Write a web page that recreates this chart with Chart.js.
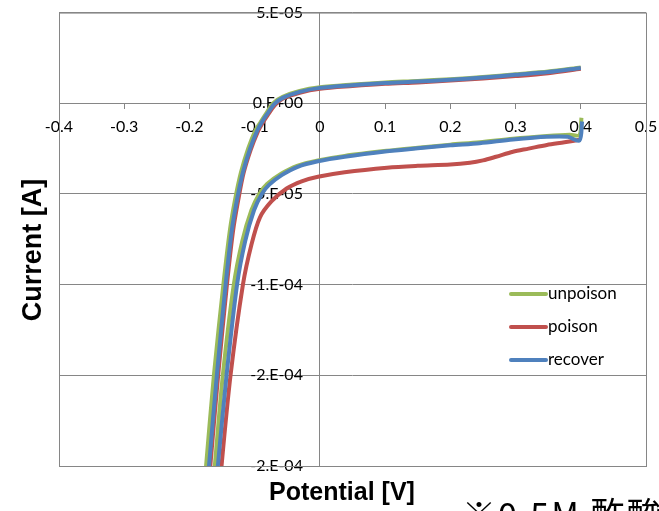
<!DOCTYPE html>
<html>
<head>
<meta charset="utf-8">
<script src="https://cdn.jsdelivr.net/npm/chart.js@4"></script>
<style>
  html, body { margin: 0; padding: 0; background: #fff; overflow: hidden; }
  #wrap { position: relative; width: 659px; height: 511px; overflow: hidden; }
  #note { position: absolute; left: 462px; top: 496px; font-family: "Noto Sans CJK JP"; font-size: 34px; line-height: 34px; letter-spacing: 2px; white-space: nowrap; color: #000; }
</style>
</head>
<body>
<div id="wrap">
  <canvas id="cvChart" width="659" height="511"></canvas>
  <div id="note">※0.5M 酢酸</div>
</div>
<script>
// tick labels (Excel style "0.E+00")
const xTickLabels = ["-0.4", "-0.3", "-0.2", "-0.1", "0", "0.1", "0.2", "0.3", "0.4", "0.5"];
const yTickLabels = ["-2.E-04", "-2.E-04", "-1.E-04", "-5.E-05", "0.E+00", "5.E-05"];

const seriesNames = ["unpoison", "poison", "recover"];
const seriesColors = ["#9BBB59", "#C0504D", "#4F81BD"];

// unpoison: sweep to negative potential, then back
const unpoisonX = [0.400, 0.350, 0.300, 0.250, 0.200, 0.150, 0.100, 0.050, 0.000, -0.031, -0.057, -0.072, -0.083, -0.092, -0.099, -0.110, -0.121, -0.130, -0.138, -0.148, -0.1625, -0.1745, -0.184,
  -0.171, -0.1611, -0.1488, -0.132, -0.119, -0.105, -0.093, -0.081, -0.060, -0.035, -0.003, 0.038, 0.103, 0.150, 0.200, 0.245, 0.296, 0.348, 0.383, 0.398, 0.401];
const unpoisonY = [1.98e-5, 1.75e-5, 1.60e-5, 1.45e-5, 1.33e-5, 1.23e-5, 1.15e-5, 1.03e-5, 0.88e-5, 0.68e-5, 0.36e-5, 0.0, -0.6e-5, -1.1e-5, -1.5e-5, -2.5e-5, -3.8e-5, -5.3e-5, -7.0e-5, -1.0e-4, -1.5e-4, -2.0e-4, -2.4e-4,
  -2.4e-4, -2.0e-4, -1.5e-4, -1.0e-4, -7.6e-5, -5.9e-5, -5.0e-5, -4.45e-5, -3.9e-5, -3.45e-5, -3.15e-5, -2.9e-5, -2.62e-5, -2.45e-5, -2.28e-5, -2.15e-5, -1.95e-5, -1.8e-5, -1.73e-5, -1.75e-5, -0.8e-5];

// poison
const poisonX = [0.400, 0.350, 0.300, 0.250, 0.200, 0.150, 0.100, 0.050, 0.000, -0.031, -0.057, -0.069, -0.080, -0.089, -0.095, -0.106, -0.117, -0.125, -0.133, -0.1425, -0.156, -0.168, -0.177,
  -0.160, -0.1508, -0.137, -0.118, -0.105, -0.092, -0.074, -0.051, -0.028, -0.003, 0.038, 0.103, 0.150, 0.200, 0.230, 0.250, 0.270, 0.296, 0.320, 0.348, 0.375, 0.400];
const poisonY = [1.90e-5, 1.66e-5, 1.50e-5, 1.37e-5, 1.25e-5, 1.15e-5, 1.07e-5, 0.95e-5, 0.80e-5, 0.58e-5, 0.25e-5, -0.1e-5, -0.65e-5, -1.15e-5, -1.55e-5, -2.55e-5, -3.85e-5, -5.3e-5, -7.0e-5, -1.0e-4, -1.5e-4, -2.0e-4, -2.4e-4,
  -2.4e-4, -2.0e-4, -1.5e-4, -1.0e-4, -7.8e-5, -6.3e-5, -5.4e-5, -4.7e-5, -4.3e-5, -4.05e-5, -3.8e-5, -3.55e-5, -3.45e-5, -3.38e-5, -3.28e-5, -3.15e-5, -2.95e-5, -2.67e-5, -2.5e-5, -2.3e-5, -2.15e-5, -2.0e-5];

// recover
const recoverX = [0.400, 0.350, 0.300, 0.250, 0.200, 0.150, 0.100, 0.050, 0.000, -0.031, -0.057, -0.070, -0.081, -0.090, -0.096, -0.107, -0.118, -0.127, -0.135, -0.1445, -0.158, -0.170, -0.179,
  -0.166, -0.1564, -0.1431, -0.127, -0.1145, -0.101, -0.089, -0.078, -0.058, -0.034, -0.003, 0.038, 0.103, 0.150, 0.200, 0.245, 0.296, 0.348, 0.380, 0.398, 0.402];
const recoverY = [1.95e-5, 1.72e-5, 1.57e-5, 1.42e-5, 1.30e-5, 1.20e-5, 1.12e-5, 1.00e-5, 0.85e-5, 0.63e-5, 0.30e-5, -0.05e-5, -0.6e-5, -1.1e-5, -1.5e-5, -2.5e-5, -3.8e-5, -5.3e-5, -7.0e-5, -1.0e-4, -1.5e-4, -2.0e-4, -2.4e-4,
  -2.4e-4, -2.0e-4, -1.5e-4, -1.0e-4, -7.6e-5, -5.9e-5, -5.0e-5, -4.5e-5, -3.95e-5, -3.5e-5, -3.2e-5, -2.95e-5, -2.65e-5, -2.48e-5, -2.32e-5, -2.2e-5, -2.0e-5, -1.85e-5, -1.85e-5, -2.05e-5, -1.0e-5];

const seriesX = [unpoisonX, poisonX, recoverX];
const seriesY = [unpoisonY, poisonY, recoverY];

function toPoints(xs, ys) {
    return xs.map((x, i) => ({ x: x, y: ys[i] }));
}

const gridColor = "#868686";

// box, axis titles and the legend inside the plot
const decorPlugin = {
    id: "decor",
    beforeDatasetsDraw(chart) {
        const { ctx, chartArea: a } = chart;
        ctx.save();
        ctx.strokeStyle = gridColor;
        ctx.lineWidth = 1;
        ctx.strokeRect(a.left + 0.5, a.top + 0.5, a.right - a.left, a.bottom - a.top);
        ctx.restore();
    },
    afterDraw(chart) {
        const { ctx } = chart;
        ctx.save();
        ctx.fillStyle = "#000";
        ctx.textAlign = "center";
        ctx.textBaseline = "middle";
        ctx.font = "bold 25px 'Liberation Sans', Arial";
        ctx.fillText("Potential [V]", 342, 493);
        ctx.font = "bold 27px 'Liberation Sans', Arial";
        ctx.translate(34, 250);
        ctx.rotate(-Math.PI / 2);
        ctx.fillText("Current [A]", 0, 0);
        ctx.restore();

        // legend
        ctx.save();
        ctx.font = "17px Lato";
        ctx.textBaseline = "middle";
        ctx.textAlign = "left";
        seriesNames.forEach((name, i) => {
            const y = 294 + i * 33;
            ctx.strokeStyle = seriesColors[i];
            ctx.lineWidth = 4;
            ctx.lineCap = "round";
            ctx.beginPath();
            ctx.moveTo(511, y);
            ctx.lineTo(546, y);
            ctx.stroke();
            ctx.fillStyle = "#000";
            ctx.fillText(name, 548, y);
        });
        ctx.restore();
    }
};

const ctx = document.getElementById("cvChart").getContext("2d");
const cvChart = new Chart(ctx, {
    type: "scatter",
    data: {
        datasets: seriesNames.map((name, i) => ({
            label: name,
            data: toPoints(seriesX[i], seriesY[i]),
            showLine: true,
            borderColor: seriesColors[i],
            backgroundColor: seriesColors[i],
            borderWidth: 4,
            pointRadius: 0,
            tension: 0.3,
            clip: 0,
            order: seriesNames.length - 1 - i,
        })),
    },
    options: {
        responsive: false,
        animation: false,
        devicePixelRatio: 1,
        layout: { padding: { left: 59, top: 1, right: 13, bottom: 45 } },
        plugins: {
            legend: { display: false },
            tooltip: { enabled: false },
        },
        scales: {
            x: {
                type: "linear",
                position: { y: 0 },
                min: -0.4,
                max: 0.5,
                ticks: {
                    stepSize: 0.1,
                    color: "#000",
                    font: { family: "Lato", size: 16 },
                    padding: 0,
                    maxRotation: 0,
                    autoSkip: false,
                    callback: function (value, index) {
                        return xTickLabels[index];
                    },
                },
                // only the x = 0 line is drawn across the plot;
                // long tick with a dash so only 5px of it shows
                grid: {
                    drawOnChartArea: true,
                    drawTicks: true,
                    tickLength: 14,
                    tickBorderDash: [5, 30],
                    tickColor: gridColor,
                    color: (c) => (c.tick && c.tick.value === 0 ? gridColor : "rgba(0,0,0,0)"),
                },
                border: { color: gridColor },
            },
            y: {
                type: "linear",
                // labels sit a little left of the x = 0 line
                position: { x: -0.026 },
                min: -2e-4,
                max: 5e-5,
                ticks: {
                    stepSize: 5e-5,
                    color: "#000",
                    font: { family: "Lato", size: 16 },
                    autoSkip: false,
                    callback: function (value, index) {
                        return yTickLabels[index];
                    },
                },
                grid: { drawTicks: false, color: gridColor },
                border: { display: false },
            },
        },
    },
    plugins: [decorPlugin],
});
</script>
</body>
</html>
